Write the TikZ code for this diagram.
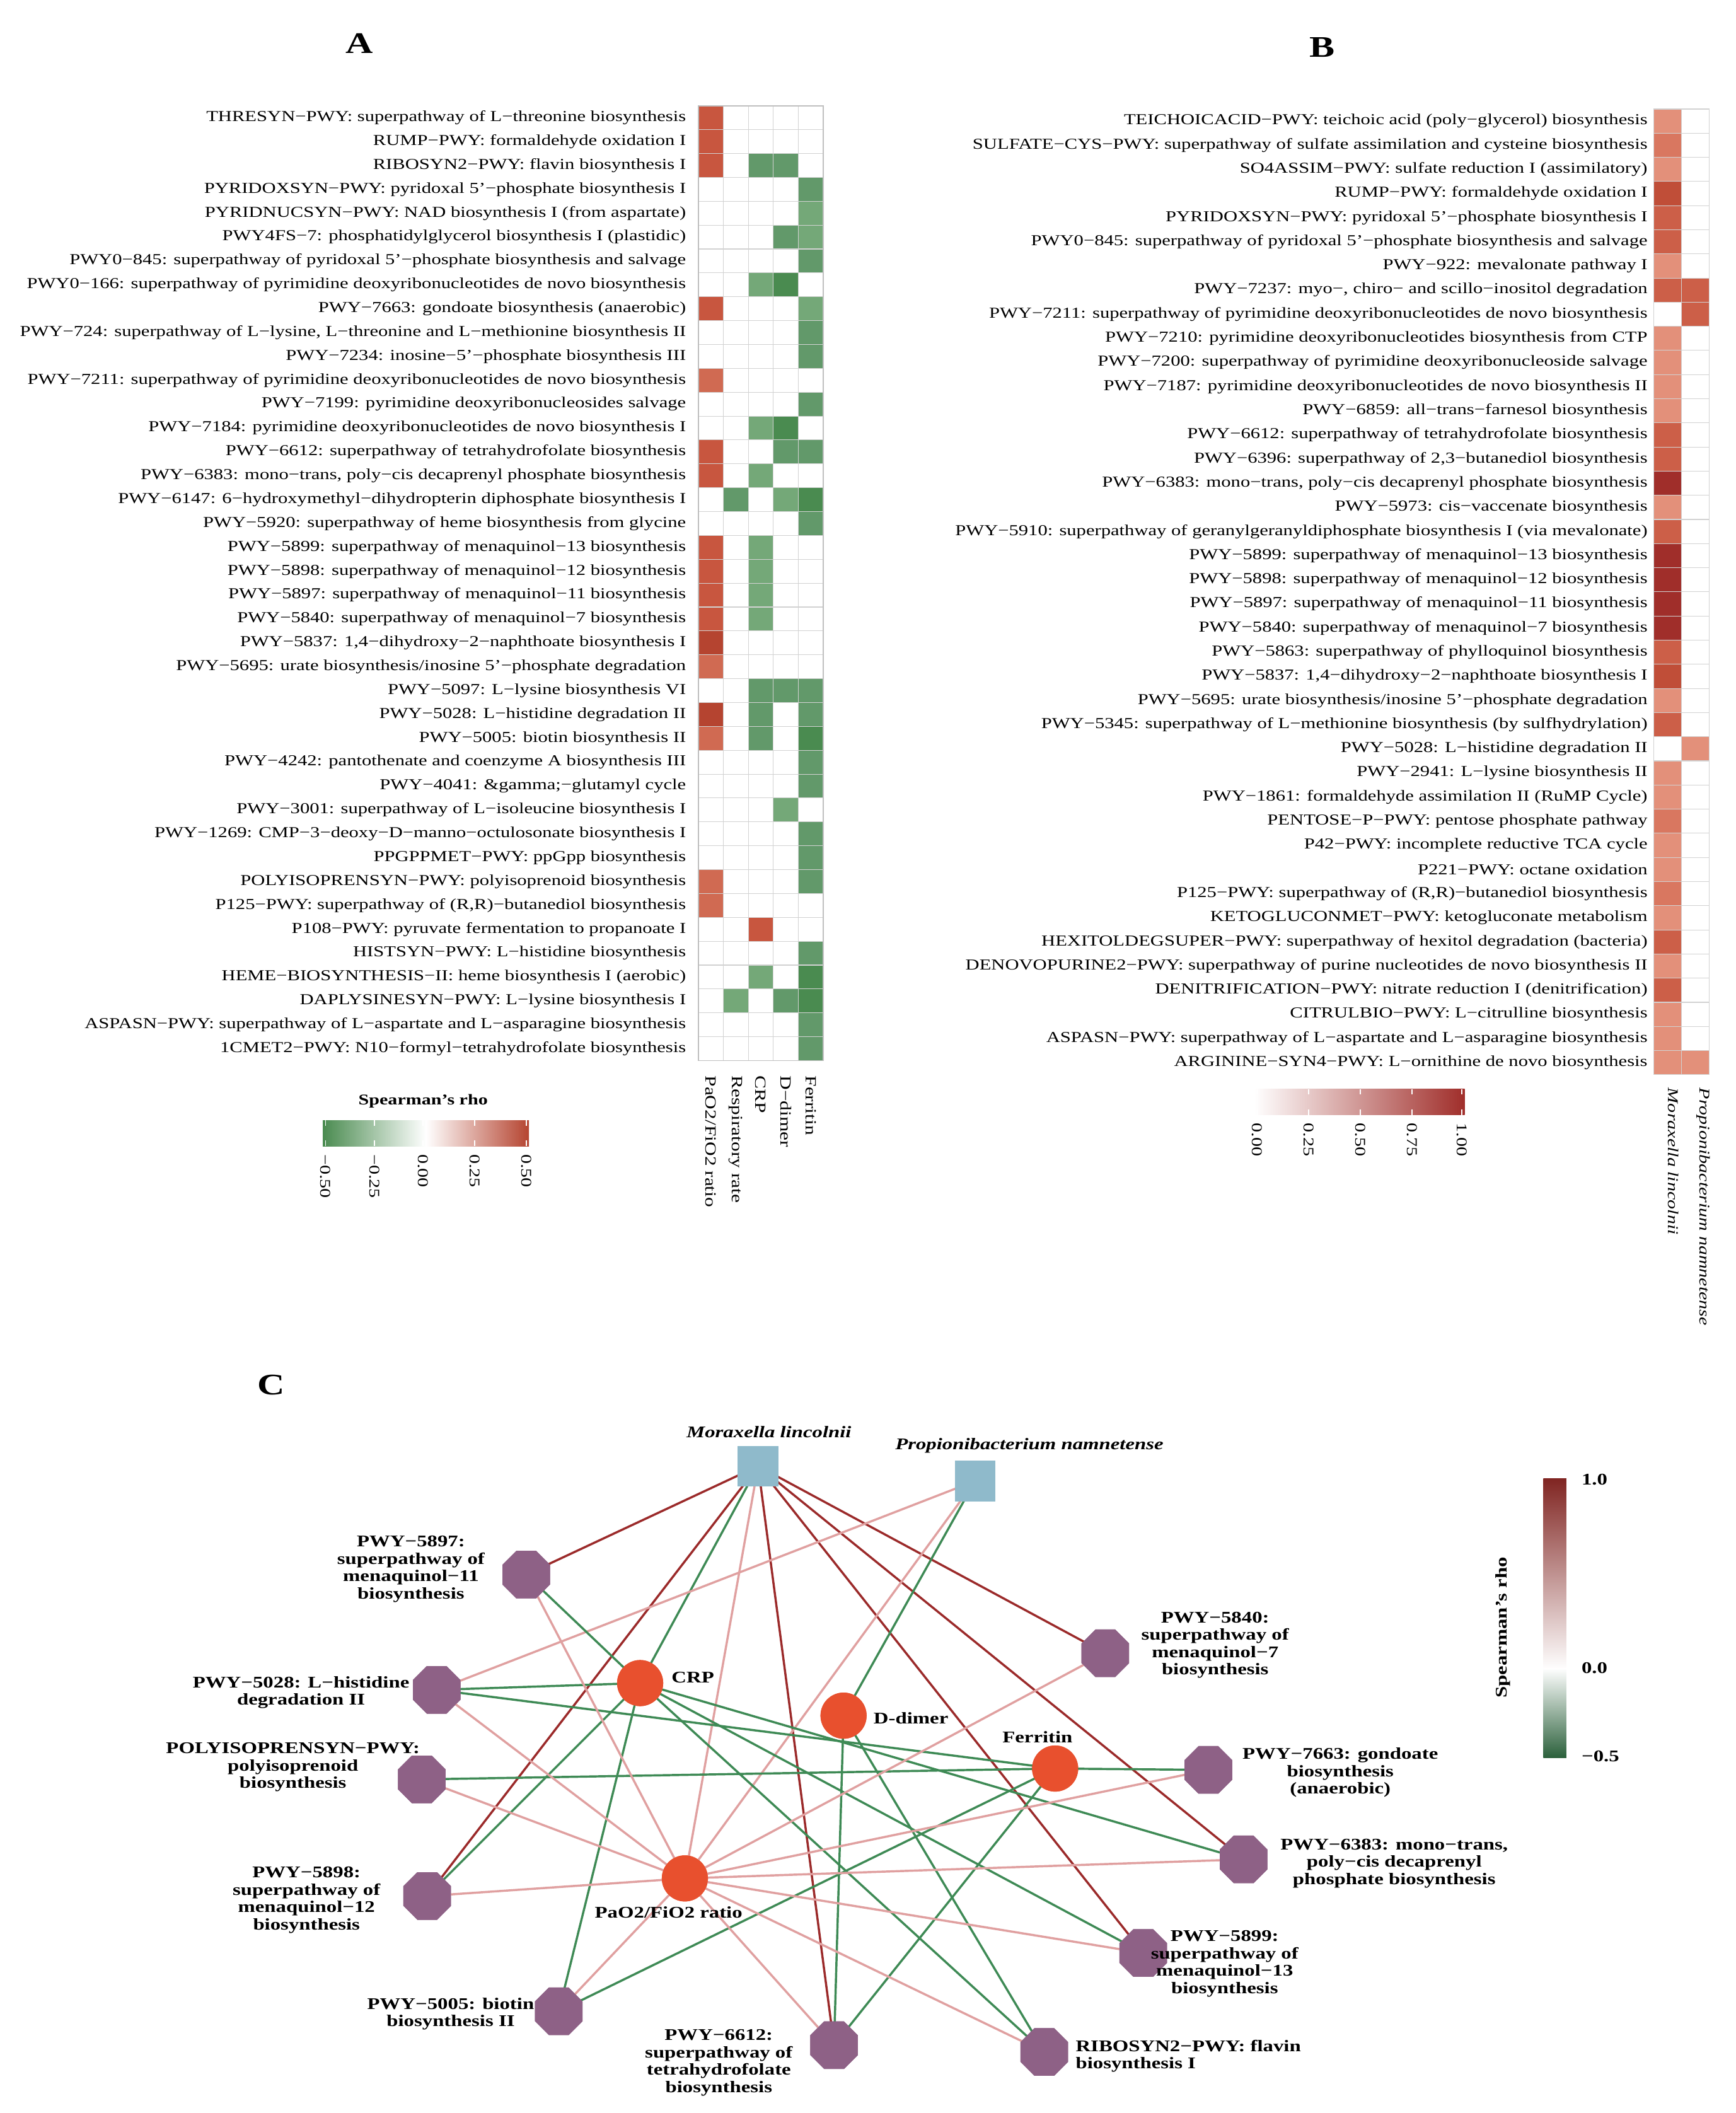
\documentclass[tikz,border=0pt]{standalone}
\usepackage{fontspec}
\setmainfont{Liberation Serif}[FakeStretch=1.27]
\usetikzlibrary{shapes.geometric}
\definecolor{A0}{HTML}{FFFFFF}
\definecolor{Ar}{HTML}{C8563F}
\definecolor{Al}{HTML}{D06A52}
\definecolor{Ad}{HTML}{B54430}
\definecolor{Ag}{HTML}{62996A}
\definecolor{Ah}{HTML}{74A878}
\definecolor{Ak}{HTML}{4A8B50}
\definecolor{B0}{HTML}{FFFFFF}
\definecolor{B1}{HTML}{E3907A}
\definecolor{B2}{HTML}{D97760}
\definecolor{B3}{HTML}{CC5F48}
\definecolor{B4}{HTML}{C04E38}
\definecolor{B5}{HTML}{A02E2A}
\definecolor{edR}{HTML}{9B2A2A}
\definecolor{edP}{HTML}{E0A0A0}
\definecolor{edG}{HTML}{3E8A55}
\definecolor{oct}{HTML}{8E6186}
\definecolor{sq}{HTML}{8FBACB}
\definecolor{circ}{HTML}{E8502E}
\tikzset{
 lab/.style={anchor=east,font=\fontsize{11.2}{12}\selectfont,inner sep=0pt},
 cellb/.style={draw=gray!35,line width=0.5pt},
 oc/.style={regular polygon,regular polygon sides=8,fill=oct,minimum size=38pt,inner sep=0pt},
 sqn/.style={rectangle,fill=sq,minimum size=30pt,inner sep=0pt},
 cn/.style={circle,fill=circ,minimum size=34pt,inner sep=0pt},
 nl/.style={font=\bfseries\fontsize{12}{12.8}\selectfont,align=center,inner sep=0pt},
 eR/.style={edR,line width=1.6pt},
 eP/.style={edP,line width=1.6pt},
 eG/.style={edG,line width=1.6pt},
 ttl/.style={font=\bfseries\fontsize{22}{22}\selectfont}
}
\begin{document}
\begin{tikzpicture}[x=1pt,y=-1pt]
\fill[white] (0,0) rectangle (1280,1558);
\useasboundingbox (0,0) rectangle (1280,1558);
\node[ttl] (tA) at (265,32) {A};
\node[ttl] (tB) at (975,35) {B};
\node[ttl] (tC) at (200,1021) {C};
% ---------- Heatmap A labels
\foreach \t [count=\i] in {
{THRESYN−PWY: superpathway of L−threonine biosynthesis},
{RUMP−PWY: formaldehyde oxidation I},
{RIBOSYN2−PWY: flavin biosynthesis I},
{PYRIDOXSYN−PWY: pyridoxal 5'−phosphate biosynthesis I},
{PYRIDNUCSYN−PWY: NAD biosynthesis I (from aspartate)},
{PWY4FS−7: phosphatidylglycerol biosynthesis I (plastidic)},
{PWY0−845: superpathway of pyridoxal 5'−phosphate biosynthesis and salvage},
{PWY0−166: superpathway of pyrimidine deoxyribonucleotides de novo biosynthesis},
{PWY−7663: gondoate biosynthesis (anaerobic)},
{PWY−724: superpathway of L−lysine, L−threonine and L−methionine biosynthesis II},
{PWY−7234: inosine−5'−phosphate biosynthesis III},
{PWY−7211: superpathway of pyrimidine deoxyribonucleotides de novo biosynthesis},
{PWY−7199: pyrimidine deoxyribonucleosides salvage},
{PWY−7184: pyrimidine deoxyribonucleotides de novo biosynthesis I},
{PWY−6612: superpathway of tetrahydrofolate biosynthesis},
{PWY−6383: mono−trans, poly−cis decaprenyl phosphate biosynthesis},
{PWY−6147: 6−hydroxymethyl−dihydropterin diphosphate biosynthesis I},
{PWY−5920: superpathway of heme biosynthesis from glycine},
{PWY−5899: superpathway of menaquinol−13 biosynthesis},
{PWY−5898: superpathway of menaquinol−12 biosynthesis},
{PWY−5897: superpathway of menaquinol−11 biosynthesis},
{PWY−5840: superpathway of menaquinol−7 biosynthesis},
{PWY−5837: 1,4−dihydroxy−2−naphthoate biosynthesis I},
{PWY−5695: urate biosynthesis/inosine 5'−phosphate degradation},
{PWY−5097: L−lysine biosynthesis VI},
{PWY−5028: L−histidine degradation II},
{PWY−5005: biotin biosynthesis II},
{PWY−4242: pantothenate and coenzyme A biosynthesis III},
{PWY−4041: \&gamma;−glutamyl cycle},
{PWY−3001: superpathway of L−isoleucine biosynthesis I},
{PWY−1269: CMP−3−deoxy−D−manno−octulosonate biosynthesis I},
{PPGPPMET−PWY: ppGpp biosynthesis},
{POLYISOPRENSYN−PWY: polyisoprenoid biosynthesis},
{P125−PWY: superpathway of (R,R)−butanediol biosynthesis},
{P108−PWY: pyruvate fermentation to propanoate I},
{HISTSYN−PWY: L−histidine biosynthesis},
{HEME−BIOSYNTHESIS−II: heme biosynthesis I (aerobic)},
{DAPLYSINESYN−PWY: L−lysine biosynthesis I},
{ASPASN−PWY: superpathway of L−aspartate and L−asparagine biosynthesis},
{1CMET2−PWY: N10−formyl−tetrahydrofolate biosynthesis}}
 \node[lab] (la\i) at (506,{78+(\i-0.5)*17.6}) {\t};
% ---------- Heatmap A cells
\foreach \i/\a/\b/\c/\d/\e in {
1/r/0/0/0/0,2/r/0/0/0/0,3/r/0/g/g/0,4/0/0/0/0/g,5/0/0/0/0/h,6/0/0/0/g/h,7/0/0/0/0/g,8/0/0/h/k/0,
9/r/0/0/0/h,10/0/0/0/0/g,11/0/0/0/0/g,12/l/0/0/0/0,13/0/0/0/0/g,14/0/0/h/k/0,15/r/0/0/g/g,16/r/0/h/0/0,
17/0/g/0/h/k,18/0/0/0/0/g,19/r/0/h/0/0,20/r/0/h/0/0,21/r/0/h/0/0,22/r/0/h/0/0,23/d/0/0/0/0,24/l/0/0/0/0,
25/0/0/g/g/g,26/d/0/g/0/g,27/l/0/g/0/k,28/0/0/0/0/g,29/0/0/0/0/g,30/0/0/0/h/0,31/0/0/0/0/g,32/0/0/0/0/g,
33/l/0/0/0/g,34/l/0/0/0/0,35/0/0/r/0/0,36/0/0/0/0/g,37/0/0/h/0/k,38/0/h/0/g/k,39/0/0/0/0/g,40/0/0/0/0/g}{
 \foreach \col [count=\j] in {\a,\b,\c,\d,\e}
  \filldraw[cellb,fill=A\col] ({515+(\j-1)*18.4},{78+(\i-1)*17.6}) rectangle ++(18.4,17.6);
}
\draw[gray!50,line width=0.8pt] (515,78) rectangle (607,782);
% column labels A
\foreach \t [count=\j] in {PaO2/FiO2 ratio,Respiratory rate,CRP,D−dimer,Ferritin}
 \node[rotate=-90,anchor=west,font=\fontsize{11.5}{12}\selectfont,inner sep=0pt] (ca\j) at ({515+(\j-0.5)*18.4},793) {\t};
% legend A
\node[font=\bfseries\fontsize{11}{12}\selectfont] (lgA) at (312,812) {Spearman's rho};
\shade[left color=Ak,right color=white] (238,826) rectangle (314,845);
\shade[left color=white,right color=Ad] (314,826) rectangle (390,845);
\foreach \x/\t in {240/−0.50,276/−0.25,312/0.00,350/0.25,388/0.50}{
 \draw[white,line width=0.8pt] (\x,826) -- (\x,830) (\x,841) -- (\x,845);
 \node[rotate=-90,anchor=west,font=\fontsize{11}{12}\selectfont,inner sep=0pt] at (\x,851) {\t};}
% ---------- Heatmap B labels
\foreach \t [count=\i] in {
{TEICHOICACID−PWY: teichoic acid (poly−glycerol) biosynthesis},
{SULFATE−CYS−PWY: superpathway of sulfate assimilation and cysteine biosynthesis},
{SO4ASSIM−PWY: sulfate reduction I (assimilatory)},
{RUMP−PWY: formaldehyde oxidation I},
{PYRIDOXSYN−PWY: pyridoxal 5'−phosphate biosynthesis I},
{PWY0−845: superpathway of pyridoxal 5'−phosphate biosynthesis and salvage},
{PWY−922: mevalonate pathway I},
{PWY−7237: myo−, chiro− and scillo−inositol degradation},
{PWY−7211: superpathway of pyrimidine deoxyribonucleotides de novo biosynthesis},
{PWY−7210: pyrimidine deoxyribonucleotides biosynthesis from CTP},
{PWY−7200: superpathway of pyrimidine deoxyribonucleoside salvage},
{PWY−7187: pyrimidine deoxyribonucleotides de novo biosynthesis II},
{PWY−6859: all−trans−farnesol biosynthesis},
{PWY−6612: superpathway of tetrahydrofolate biosynthesis},
{PWY−6396: superpathway of 2,3−butanediol biosynthesis},
{PWY−6383: mono−trans, poly−cis decaprenyl phosphate biosynthesis},
{PWY−5973: cis−vaccenate biosynthesis},
{PWY−5910: superpathway of geranylgeranyldiphosphate biosynthesis I (via mevalonate)},
{PWY−5899: superpathway of menaquinol−13 biosynthesis},
{PWY−5898: superpathway of menaquinol−12 biosynthesis},
{PWY−5897: superpathway of menaquinol−11 biosynthesis},
{PWY−5840: superpathway of menaquinol−7 biosynthesis},
{PWY−5863: superpathway of phylloquinol biosynthesis},
{PWY−5837: 1,4−dihydroxy−2−naphthoate biosynthesis I},
{PWY−5695: urate biosynthesis/inosine 5'−phosphate degradation},
{PWY−5345: superpathway of L−methionine biosynthesis (by sulfhydrylation)},
{PWY−5028: L−histidine degradation II},
{PWY−2941: L−lysine biosynthesis II},
{PWY−1861: formaldehyde assimilation II (RuMP Cycle)},
{PENTOSE−P−PWY: pentose phosphate pathway},
{P42−PWY: incomplete reductive TCA cycle},
{P221−PWY: octane oxidation},
{P125−PWY: superpathway of (R,R)−butanediol biosynthesis},
{KETOGLUCONMET−PWY: ketogluconate metabolism},
{HEXITOLDEGSUPER−PWY: superpathway of hexitol degradation (bacteria)},
{DENOVOPURINE2−PWY: superpathway of purine nucleotides de novo biosynthesis II},
{DENITRIFICATION−PWY: nitrate reduction I (denitrification)},
{CITRULBIO−PWY: L−citrulline biosynthesis},
{ASPASN−PWY: superpathway of L−aspartate and L−asparagine biosynthesis},
{ARGININE−SYN4−PWY: L−ornithine de novo  biosynthesis}}
 \node[lab] (lb\i) at (1215,{80.4+(\i-0.5)*17.8}) {\t};
\foreach \i/\a/\b in {1/1/0,2/2/0,3/1/0,4/4/0,5/3/0,6/3/0,7/1/0,8/3/3,9/0/3,10/1/0,11/1/0,12/1/0,13/1/0,
14/3/0,15/3/0,16/5/0,17/1/0,18/3/0,19/5/0,20/5/0,21/5/0,22/5/0,23/3/0,24/4/0,25/1/0,26/3/0,27/0/1,28/1/0,
29/1/0,30/2/0,31/1/0,32/1/0,33/2/0,34/1/0,35/3/0,36/1/0,37/3/0,38/1/0,39/1/0,40/1/1}{
 \filldraw[cellb,fill=B\a] (1219.5,{80.4+(\i-1)*17.8}) rectangle ++(20.3,17.8);
 \filldraw[cellb,fill=B\b] (1239.8,{80.4+(\i-1)*17.8}) rectangle ++(20.3,17.8);
}
\node[rotate=-90,anchor=west,font=\itshape\fontsize{11}{12}\selectfont,inner sep=0pt] (cb1) at (1234,802) {Moraxella lincolnii};
\node[rotate=-90,anchor=west,font=\itshape\fontsize{11}{12}\selectfont,inner sep=0pt] (cb2) at (1256,802) {Propionibacterium namnetense};
\node[font=\bfseries\fontsize{11}{12}\selectfont] (lgB) at (1003,812) {Spearman's rho};
\shade[left color=white,right color=B5] (925,803) rectangle (1080,822);
\foreach \x/\t in {927/0.00,965/0.25,1003/0.50,1041/0.75,1078/1.00}{
 \draw[white,line width=0.8pt] (\x,803) -- (\x,807) (\x,818) -- (\x,822);
 \node[rotate=-90,anchor=west,font=\fontsize{11}{12}\selectfont,inner sep=0pt] at (\x,828) {\t};}
% ---------- Network C
\node[sqn] (M) at (559,1081) {};
\node[sqn] (P) at (719,1092) {};
\node[cn] (CRP) at (472,1241) {};
\node[cn] (DD) at (622,1265) {};
\node[cn] (FE) at (778,1304) {};
\node[cn] (PA) at (505,1385) {};
\node[oc] (o5897) at (388,1161) {};
\node[oc] (o5028) at (322,1246) {};
\node[oc] (oPOLY) at (311,1312) {};
\node[oc] (o5898) at (315,1398) {};
\node[oc] (o5005) at (412,1483) {};
\node[oc] (o6612) at (615,1508) {};
\node[oc] (oRIBO) at (770,1513) {};
\node[oc] (o5899) at (843,1440) {};
\node[oc] (o6383) at (917,1371) {};
\node[oc] (o7663) at (891,1305) {};
\node[oc] (o5840) at (815,1219) {};
\foreach \a/\b/\s in {M/o5897/eR,M/o5898/eR,M/o6612/eR,M/o6383/eR,M/o5899/eR,M/o5840/eR,M/CRP/eG,M/PA/eP,
P/o5028/eP,P/PA/eP,P/DD/eG,
CRP/o5897/eG,CRP/o5028/eG,CRP/o5898/eG,CRP/o5005/eG,CRP/o6383/eG,CRP/o5899/eG,CRP/oRIBO/eG,
DD/o6612/eG,DD/oRIBO/eG,
FE/o5028/eG,FE/oPOLY/eG,FE/o7663/eG,FE/o5005/eG,FE/o6612/eG,
PA/o5897/eP,PA/o5028/eP,PA/oPOLY/eP,PA/o5898/eP,PA/o5005/eP,PA/o6612/eP,PA/oRIBO/eP,PA/o5899/eP,PA/o6383/eP,PA/o7663/eP,PA/o5840/eP}
 \draw[\s] (\a.center) -- (\b.center);
% redraw nodes on top of the connectors
\foreach \x/\y in {559/1081,719/1092} \node[sqn] at (\x,\y) {};
\foreach \x/\y in {472/1241,622/1265,778/1304,505/1385} \node[cn] at (\x,\y) {};
\foreach \x/\y in {388/1161,322/1246,311/1312,315/1398,412/1483,615/1508,770/1513,843/1440,917/1371,891/1305,815/1219} \node[oc] at (\x,\y) {};
% labels
\node[nl,font=\bfseries\itshape\fontsize{12}{12.8}\selectfont] (tM) at (567,1056) {Moraxella lincolnii};
\node[nl,font=\bfseries\itshape\fontsize{12}{12.8}\selectfont] (tP) at (759,1066) {Propionibacterium namnetense};
\node[nl,anchor=west] (tCRP) at (495,1237) {CRP};
\node[nl,anchor=west] (tDD) at (644,1267) {D-dimer};
\node[nl] (tFE) at (765,1281) {Ferritin};
\node[nl] (tPA) at (493,1410) {PaO2/FiO2 ratio};
\node[nl] (t5897) at (303,1157) {PWY−5897:\\superpathway of\\menaquinol−11\\biosynthesis};
\node[nl,anchor=east] (t5028) at (302,1248) {PWY−5028: L−histidine\\degradation II};
\node[nl] (tPOLY) at (216,1303) {POLYISOPRENSYN−PWY:\\polyisoprenoid\\biosynthesis};
\node[nl] (t5898) at (226,1401) {PWY−5898:\\superpathway of\\menaquinol−12\\biosynthesis};
\node[nl,anchor=east] (t5005) at (394,1485) {PWY−5005: biotin\\biosynthesis II};
\node[nl] (t6612) at (530,1521) {PWY−6612:\\superpathway of\\tetrahydrofolate\\biosynthesis};
\node[nl,align=left,anchor=west] (tRIBO) at (793,1516) {RIBOSYN2−PWY: flavin\\biosynthesis I};
\node[nl] (t5899) at (903,1448) {PWY−5899:\\superpathway of\\menaquinol−13\\biosynthesis};
\node[nl,anchor=west] (t6383) at (944,1374) {PWY−6383: mono−trans,\\poly−cis decaprenyl\\phosphate biosynthesis};
\node[nl,anchor=west] (t7663) at (916,1307) {PWY−7663: gondoate\\biosynthesis\\(anaerobic)};
\node[nl] (t5840) at (896,1213) {PWY−5840:\\superpathway of\\menaquinol−7\\biosynthesis};
% colorbar C
\shade[top color=B5!80!black,bottom color=white] (1138,1090) rectangle (1155,1231);
\shade[top color=white,bottom color=edG!70!black] (1138,1230) rectangle (1155,1296);
\node[nl,anchor=west] (c1) at (1166,1091) {1.0};
\node[nl,anchor=west] (c0) at (1166,1230) {0.0};
\node[nl,anchor=west] (cm) at (1166,1295) {−0.5};
\node[nl,rotate=90] (cl) at (1108,1200) {Spearman's rho};
\end{tikzpicture}
\end{document}
